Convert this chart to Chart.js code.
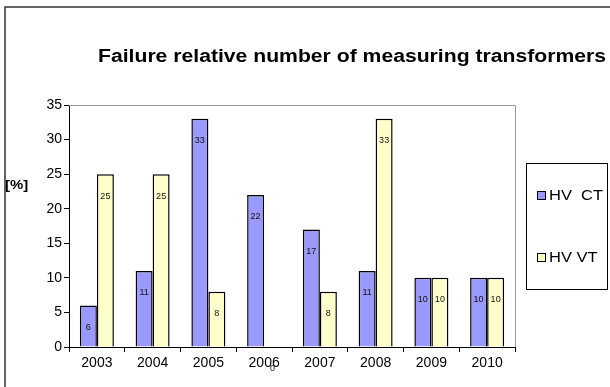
<!DOCTYPE html>
<html>
<head>
<meta charset="utf-8">
<script src="https://cdn.jsdelivr.net/npm/chart.js@4/dist/chart.umd.min.js"></script>
<style>
  html, body { margin: 0; padding: 0; background: #fff; }
  canvas { display: block; }
</style>
</head>
<body>
<canvas id="c" width="610" height="387"></canvas>
<script>
const categories = ['2003', '2004', '2005', '2006', '2007', '2008', '2009', '2010'];
const hvCT = [6, 11, 33, 22, 17, 11, 10, 10];
const hvVT = [25, 25, 8, 0, 8, 33, 10, 10];
const seriesNames = ['HV  CT', 'HV VT'];
const chartTitle = 'Failure relative number of measuring transformers';
const yAxisLabel = '[%]';

const FONT = '"Liberation Sans", Arial, sans-serif';

const decor = {
  id: 'decor',
  beforeDraw(chart) {
    const ctx = chart.ctx;
    ctx.save();
    ctx.fillStyle = '#fff';
    ctx.fillRect(0, 0, chart.width, chart.height);
    ctx.strokeStyle = '#333';
    ctx.lineWidth = 1.5;
    ctx.beginPath();
    ctx.moveTo(5, chart.height + 5);
    ctx.lineTo(5, 7);
    ctx.lineTo(chart.width + 5, 7);
    ctx.stroke();
    ctx.restore();
  },
  afterDraw(chart) {
    const ctx = chart.ctx;
    const a = chart.chartArea;
    ctx.save();
    // plot area top/right border
    ctx.strokeStyle = '#999';
    ctx.lineWidth = 1;
    ctx.beginPath();
    ctx.moveTo(a.left, a.top + 0.5);
    ctx.lineTo(a.right + 0.5, a.top + 0.5);
    ctx.lineTo(a.right + 0.5, a.bottom);
    ctx.stroke();

    // title (horizontally widened like the reference)
    ctx.fillStyle = '#000';
    ctx.font = 'bold 18px ' + FONT;
    ctx.textAlign = 'left';
    ctx.textBaseline = 'middle';
    const tw = ctx.measureText(chartTitle).width;
    ctx.save();
    ctx.translate(98, 57);
    ctx.scale(508 / tw, 1);
    ctx.fillText(chartTitle, 0, 0);
    ctx.restore();

    // y axis label
    ctx.font = 'bold 13px ' + FONT;
    ctx.save();
    ctx.translate(5, 185);
    ctx.scale(1.15, 1);
    ctx.fillText(yAxisLabel, 0, 0);
    ctx.restore();

    // data labels
    ctx.font = '9px ' + FONT;
    ctx.textAlign = 'center';
    ctx.fillStyle = '#111';
    chart.data.datasets.forEach((ds, di) => {
      const meta = chart.getDatasetMeta(di);
      meta.data.forEach((el, i) => {
        ctx.fillText(String(ds.data[i]), el.x, el.y + 22);
      });
    });

    // legend
    ctx.strokeStyle = '#000';
    ctx.lineWidth = 1;
    ctx.strokeRect(526.5, 163.5, 81, 126);
    const ys = [196, 258];
    ctx.font = '15px ' + FONT;
    ctx.textAlign = 'left';
    chart.data.datasets.forEach((ds, di) => {
      ctx.fillStyle = ds.backgroundColor;
      ctx.fillRect(537.5, ys[di] - 4.5, 8, 8);
      ctx.strokeRect(537.5, ys[di] - 4.5, 8, 8);
      ctx.fillStyle = '#000';
      ctx.save();
      ctx.translate(549, ys[di]);
      ctx.scale(1.1, 1);
      ctx.fillText(ds.label, 0, 0);
      ctx.restore();
    });
    ctx.restore();
  }
};

new Chart(document.getElementById('c'), {
  type: 'bar',
  data: {
    labels: categories,
    datasets: [
      { label: seriesNames[0], data: hvCT, backgroundColor: '#9999FF', borderColor: '#000', borderWidth: 1.5 },
      { label: seriesNames[1], data: hvVT, backgroundColor: '#FFFFCC', borderColor: '#000', borderWidth: 1.5 }
    ]
  },
  options: {
    responsive: false,
    animation: false,
    devicePixelRatio: 1,
    layout: { padding: { left: 0, right: 95, top: 105, bottom: 0 } },
    datasets: { bar: { categoryPercentage: 0.61, barPercentage: 1.0 } },
    plugins: { legend: { display: false }, title: { display: false }, tooltip: { enabled: false } },
    scales: {
      x: {
        grid: { offset: true, color: 'transparent', tickColor: '#000', tickLength: 5, drawOnChartArea: false },
        border: { color: '#000', width: 1 },
        ticks: { color: '#000', font: { family: FONT, size: 14 }, padding: 3, maxRotation: 0 },
        afterFit(s) { s.height = 40; }
      },
      y: {
        min: 0, max: 35,
        grid: { color: 'transparent', tickColor: '#000', tickLength: 5, drawOnChartArea: false },
        border: { color: '#000', width: 1 },
        ticks: { stepSize: 5, color: '#000', font: { family: FONT, size: 14 }, padding: 2 },
        afterFit(s) { s.width = 69; }
      }
    }
  },
  plugins: [decor]
});
</script>
</body>
</html>
